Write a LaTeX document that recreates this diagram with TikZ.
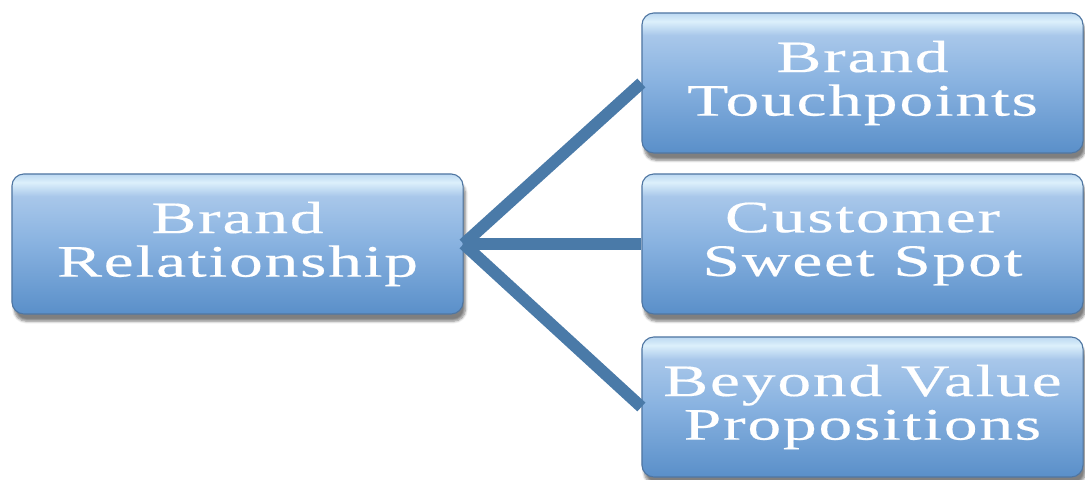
\documentclass[tikz,border=0pt]{standalone}
\usepackage{fontspec}
\setmainfont{Liberation Serif}[FakeStretch=1.5,LetterSpace=4,FakeBold=0.4]
\usetikzlibrary{shadows.blur}
\definecolor{boxedge}{HTML}{4F76A2}
\definecolor{linkblue}{HTML}{4A7AA8}
\definecolor{shadebot}{HTML}{5A8FC9}
\definecolor{shademid}{HTML}{88B2E0}
\definecolor{shadeup}{HTML}{A8C7EA}
\definecolor{shadehi}{HTML}{DCF0FB}
\definecolor{shadetop}{HTML}{BCD8F2}
\pgfdeclareverticalshading{boxshade}{100bp}{color(0bp)=(shadebot); color(25bp)=(shadebot);
  color(50bp)=(shademid); color(67bp)=(shadeup); color(72bp)=(shadehi); color(75bp)=(shadetop); color(100bp)=(shadetop)}

\begin{document}
\begin{tikzpicture}[x=0.025cm,y=0.025cm,
    tbox/.style={rectangle,rounded corners=0.3cm,draw=boxedge,line width=0.8pt,
        shading=boxshade,minimum height=3.5cm,text=white,align=center,
        font=\fontsize{32}{31}\selectfont,
        blur shadow={shadow xshift=0.6mm,shadow yshift=-1.8mm,shadow blur steps=6,shadow opacity=50}},
    link/.style={draw=linkblue,line width=8.5pt}]
    \useasboundingbox (0,0) rectangle (1085,480);
    \node[tbox,minimum width=11.275cm] (rel) at (237.5,236) {Brand\\Relationship};
    \node[tbox,minimum width=11.025cm] (touch) at (862.5,397) {Brand\\Touchpoints};
    \node[tbox,minimum width=11.025cm] (sweet) at (862.5,236) {Customer\\Sweet Spot};
    \node[tbox,minimum width=11.025cm] (beyond) at (862.5,73) {Beyond Value\\Propositions};
    \draw[link] (rel.east) -- (touch.west);
    \draw[link] (rel.east) -- (sweet.west);
    \draw[link] (rel.east) -- (beyond.west);
\end{tikzpicture}
\end{document}
